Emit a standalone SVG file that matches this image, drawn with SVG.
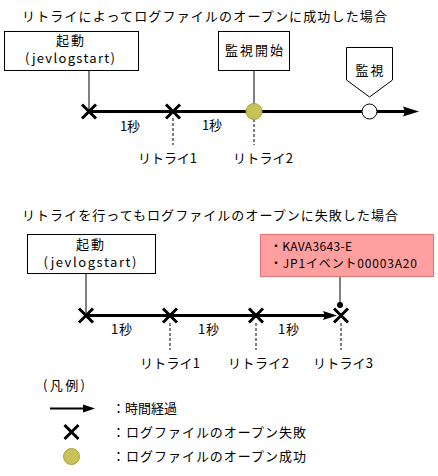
<svg xmlns="http://www.w3.org/2000/svg" width="438" height="476" viewBox="0 0 438 476">
<style>
text{font-family:"Noto Sans CJK JP","Noto Sans",sans-serif;font-size:13px;fill:#000}
.box{fill:#fff;stroke:#000;stroke-width:1}
.ln{stroke:#000;stroke-width:1;fill:none}
.dash{stroke:#000;stroke-width:1;stroke-dasharray:3,2;fill:none}
.tl{stroke:#000;stroke-width:3;fill:none}
.ok{fill:#c8c25a;stroke:#a8a23a;stroke-width:1}
.mid{text-anchor:middle}
.err{font-size:12px}
</style>
<defs>
<g id="xm"><path d="M-7,-7L7,7M7,-7L-7,7" stroke="#000" stroke-width="3" fill="none"/></g>
</defs>
<rect width="438" height="476" fill="#fff"/>

<text x="22" y="21" textLength="365" lengthAdjust="spacing">リトライによってログファイルのオープンに成功した場合</text>
<text x="22" y="220" textLength="376" lengthAdjust="spacing">リトライを行ってもログファイルのオープンに失敗した場合</text>

<g id="connectors">
<line class="ln" x1="89" y1="71" x2="89" y2="112"/>
<line class="ln" x1="254" y1="71" x2="254" y2="104"/>
<line class="tl" x1="89" y1="111.5" x2="406" y2="111.5"/>
<polygon points="403,106.5 419,111.5 403,116.5 405,111.5" fill="#000"/>
<line class="dash" x1="173" y1="118" x2="173" y2="145"/>
<line class="dash" x1="254" y1="119" x2="254" y2="145"/>

<line class="ln" x1="86" y1="274" x2="86" y2="316"/>
<line class="tl" x1="86" y1="315.5" x2="326" y2="315.5"/>
<polygon points="323,311 337,315.5 323,320 325,315.5" fill="#000"/>
<line class="ln" x1="340" y1="277" x2="340" y2="305"/>
<line class="dash" x1="170" y1="323" x2="170" y2="350"/>
<line class="dash" x1="256" y1="323" x2="256" y2="350"/>
<line class="dash" x1="341" y1="323" x2="341" y2="350"/>
</g>

<g id="start1">
<rect class="box" x="4.5" y="31.5" width="134" height="39"/>
<text class="mid" x="70" y="45" textLength="28">起動</text>
<text class="mid" x="70" y="63" textLength="90" lengthAdjust="spacing">(jevlogstart)</text>
</g>
<g id="monstart">
<rect class="box" x="218.5" y="31.5" width="71" height="39"/>
<text class="mid" x="254" y="55" textLength="58">監視開始</text>
</g>
<g id="monitor">
<polygon class="box" points="346.5,47.5 392.5,47.5 392.5,80 369.5,97 346.5,80"/>
<text class="mid" x="369.5" y="75" textLength="28">監視</text>
</g>

<g id="marks1">
<use href="#xm" x="89" y="111.5"/>
<use href="#xm" x="173" y="111.5"/>
<circle class="ok" cx="254" cy="111.5" r="8"/>
<circle cx="369.5" cy="111.5" r="7.5" fill="#fff" stroke="#000" stroke-width="1"/>
</g>
<g id="labels1">
<text x="120" y="131" textLength="20">1秒</text>
<text x="202" y="130" textLength="20">1秒</text>
<text x="138" y="163" textLength="59" lengthAdjust="spacing">リトライ1</text>
<text x="233" y="163" textLength="60" lengthAdjust="spacing">リトライ2</text>
</g>

<g id="start2">
<rect class="box" x="27.5" y="234.5" width="128" height="39"/>
<text class="mid" x="90" y="249" textLength="28">起動</text>
<text class="mid" x="90" y="267" textLength="93" lengthAdjust="spacing">(jevlogstart)</text>
</g>
<g id="error">
<rect x="260.5" y="234.5" width="173" height="42" fill="#ff9f9f" stroke="#e87070" stroke-width="1"/>
<text class="err" x="270" y="251" textLength="82" lengthAdjust="spacing">・KAVA3643-E</text>
<text class="err" x="270" y="268" textLength="147" lengthAdjust="spacing">・JP1イベント00003A20</text>
</g>
<g id="marks2">
<use href="#xm" x="86" y="315.5"/>
<use href="#xm" x="170" y="315.5"/>
<use href="#xm" x="256" y="315.5"/>
<use href="#xm" x="341" y="315.5"/>
<circle cx="340" cy="305" r="3" fill="#000"/>
</g>
<g id="labels2">
<text x="111" y="334" textLength="21">1秒</text>
<text x="198" y="334" textLength="21">1秒</text>
<text x="278" y="334" textLength="21">1秒</text>
<text x="140" y="368" textLength="60" lengthAdjust="spacing">リトライ1</text>
<text x="228" y="368" textLength="61" lengthAdjust="spacing">リトライ2</text>
<text x="313" y="368" textLength="60" lengthAdjust="spacing">リトライ3</text>
</g>

<g id="legend">
<text x="43" y="390" textLength="42" lengthAdjust="spacing">(凡例)</text>
<line x1="50" y1="408.5" x2="86" y2="408.5" stroke="#000" stroke-width="2"/>
<polygon points="83,404.5 95,408.5 83,412.5" fill="#000"/>
<text x="112" y="413" textLength="65" lengthAdjust="spacing">：時間経過</text>
<use href="#xm" x="71.5" y="432"/>
<text x="112" y="437" textLength="194" lengthAdjust="spacing">：ログファイルのオープン失敗</text>
<circle class="ok" cx="71.5" cy="456.5" r="8"/>
<text x="112" y="461" textLength="194" lengthAdjust="spacing">：ログファイルのオープン成功</text>
</g>
</svg>
